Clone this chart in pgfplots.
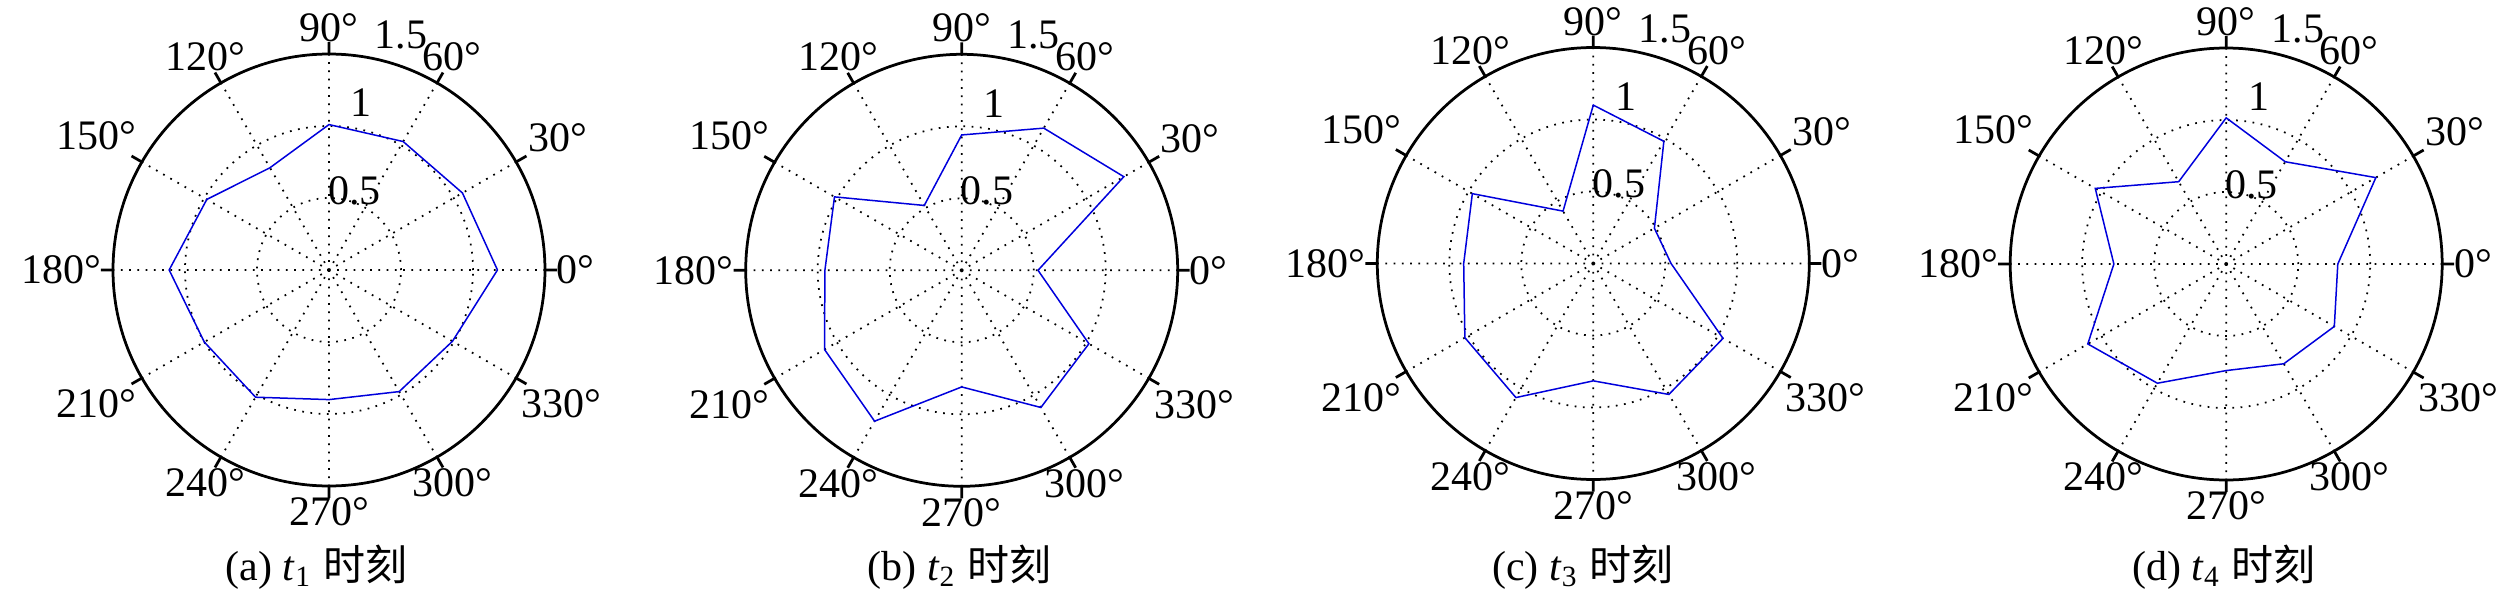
\documentclass[border=0pt]{standalone}
\usepackage{fontspec}
\setmainfont{Liberation Serif}
\newfontfamily\cjk{Noto Sans CJK SC}
\usepackage{pgfplots}
\pgfplotsset{compat=1.18}
\usepgfplotslibrary{polar}

\pgfplotsset{
  rose/.style={
    scale only axis, width=86.4pt, height=86.4pt,
    anchor=center, clip=false,
    xmin=0, xmax=360, ymin=0, ymax=1.5,
    xtick={0,30,...,330}, xticklabels={},
    ytick={0.5,1,1.5}, yticklabels={},
    grid=major,
    major grid style={black, line width=0.35pt, dash pattern=on 0.35pt off 1.3pt},
    separate axis lines,
    x axis line style={black, line width=0.55pt},
    y axis line style={draw=none},
    xtick style={black, line width=0.55pt},
    ytick style={draw=none},
    major tick length=2.4pt,
    tick align=inside,
  },
  radar/.style={color={rgb,255:red,0;green,0;blue,220}, line width=0.3pt, mark=none},
}
\newcommand{\alab}[2]{\node[anchor=#2, inner sep=2.2pt, font=\rmfamily\fontsize{8.4pt}{10pt}\selectfont] at (axis cs:#1,1.5) {#1°};}
\newcommand{\anglelabels}{%
  \alab{0}{180}\alab{30}{210}\alab{60}{240}\alab{90}{270}%
  \alab{120}{300}\alab{150}{330}\alab{180}{0}\alab{210}{30}%
  \alab{240}{60}\alab{270}{90}\alab{300}{120}\alab{330}{150}%
  \node[font=\rmfamily\fontsize{8.4pt}{10pt}\selectfont] at (axis cs:72.2,0.578) {0.5};
  \node[font=\rmfamily\fontsize{8.4pt}{10pt}\selectfont] at (axis cs:79,1.181) {1};
  \node[font=\rmfamily\fontsize{8.4pt}{10pt}\selectfont] at (axis cs:73,1.707) {1.5};
}

\begin{document}
\begin{tikzpicture}[font=\rmfamily\fontsize{8.4pt}{10pt}\selectfont]
\useasboundingbox (0,0) rectangle (504pt,120.8pt);

% (a) t1
\begin{polaraxis}[rose, at={(65.8pt,66.8pt)}]
\addplot[radar] coordinates {
 (0,1.17) (30,1.07) (60,1.03) (90,1.01) (120,0.82) (150,0.98)
 (180,1.11) (210,1.00) (240,1.02) (270,0.90) (300,0.975) (330,0.99) (360,1.17)};
\anglelabels
\end{polaraxis}
\node[anchor=base] at (63.3pt,4.7pt) {(a) \textit{t}\textsubscript{1} {\cjk 时刻}};

% (b) t2
\begin{polaraxis}[rose, at={(192.34pt,66.74pt)}]
\addplot[radar] coordinates {
 (0,0.53) (30,1.30) (60,1.14) (90,0.94) (120,0.52) (150,1.02)
 (180,0.95) (210,1.10) (240,1.21) (270,0.81) (300,1.10) (330,1.02) (360,0.53)};
\anglelabels
\end{polaraxis}
\node[anchor=base] at (191.9pt,4.7pt) {(b) \textit{t}\textsubscript{2} {\cjk 时刻}};

% (c) t3
\begin{polaraxis}[rose, at={(318.66pt,68.1pt)}]
\addplot[radar] coordinates {
 (0,0.54) (30,0.49) (60,0.98) (90,1.10) (120,0.42) (150,0.97)
 (180,0.90) (210,1.03) (240,1.075) (270,0.815) (300,1.05) (330,1.04) (360,0.54)};
\anglelabels
\end{polaraxis}
\node[anchor=base] at (316.6pt,4.7pt) {(c) \textit{t}\textsubscript{3} {\cjk 时刻}};

% (d) t4
\begin{polaraxis}[rose, at={(445.24pt,68.0pt)}]
\addplot[radar] coordinates {
 (0,0.775) (30,1.20) (60,0.82) (90,1.015) (120,0.66) (150,1.05)
 (180,0.78) (210,1.11) (240,0.956) (270,0.74) (300,0.80) (330,0.867) (360,0.775)};
\anglelabels
\end{polaraxis}
\node[anchor=base] at (444.8pt,4.7pt) {(d) \textit{t}\textsubscript{4} {\cjk 时刻}};
\end{tikzpicture}
\end{document}
